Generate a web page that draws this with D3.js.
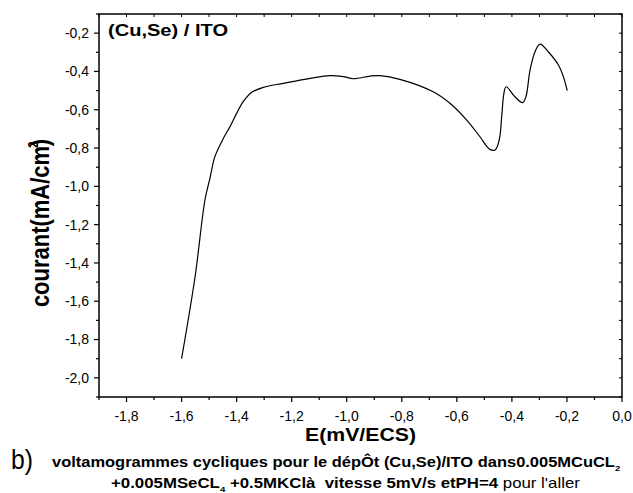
<html>
<script src="https://d3js.org/d3.v7.js"></script>
<body style="margin:0;background:#fff;">
<style>
    text { font-family: Arial, "Liberation Sans", sans-serif; }
    .tick-label { font-size: 14px; fill: #000; }
</style>
<div id="chart"></div>
<script>
    // potential E (V/ECS) and current (mA/cm2)
    let potential = [-1.600, -1.551, -1.515, -1.497, -1.479, -1.448, -1.424, -1.400, -1.376, -1.345,
                     -1.303, -1.230, -1.133, -1.061, -1.012, -0.976, -0.915, -0.879, -0.807, -0.686,
                     -0.625, -0.564, -0.516, -0.480, -0.461, -0.446, -0.437, -0.429, -0.421, -0.389,
                     -0.361, -0.349, -0.334, -0.316, -0.298, -0.268, -0.231, -0.213, -0.199];
    let current = [-1.900, -1.472, -1.070, -0.958, -0.845, -0.749, -0.688, -0.619, -0.558, -0.509,
                   -0.483, -0.462, -0.436, -0.422, -0.427, -0.438, -0.424, -0.422, -0.441, -0.506,
                   -0.566, -0.654, -0.741, -0.807, -0.810, -0.758, -0.636, -0.514, -0.480, -0.532,
                   -0.563, -0.532, -0.392, -0.297, -0.257, -0.297, -0.366, -0.427, -0.500];
    let xTicks = [-1.8, -1.6, -1.4, -1.2, -1.0, -0.8, -0.6, -0.4, -0.2, 0.0];
    let yTicks = [-0.2, -0.4, -0.6, -0.8, -1.0, -1.2, -1.4, -1.6, -1.8, -2.0];
    let xMinor = [-1.9, -1.7, -1.5, -1.3, -1.1, -0.9, -0.7, -0.5, -0.3, -0.1];
    let yMinor = [-0.1, -0.3, -0.5, -0.7, -0.9, -1.1, -1.3, -1.5, -1.7, -1.9, -2.1];

    let width = 633, height = 493;
    let pLeft = 99, pRight = 622, pTop = 14, pBottom = 397;

    let svg = d3.select('#chart').append('svg').attr('width', width).attr('height', height);

    let x = d3.scaleLinear().domain([-1.9, 0.0]).range([pLeft, pRight]);
    let y = d3.scaleLinear().domain([-2.1, -0.1]).range([pBottom, pTop]);
    let fmt = d => d3.format('.1f')(d).replace('.', ',').replace('−', '-');

    // frame
    svg.append('rect')
        .attr('x', pLeft).attr('y', pTop)
        .attr('width', pRight - pLeft).attr('height', pBottom - pTop)
        .attr('fill', 'none').attr('stroke', '#000').attr('stroke-width', 1.5);

    // bottom axis, ticks outside
    let bottomAxis = svg.append('g').attr('transform', `translate(0,${pBottom})`);
    bottomAxis.selectAll('.maj').data(xTicks).join('line')
        .attr('class', 'maj')
        .attr('x1', d => x(d)).attr('x2', d => x(d)).attr('y1', 0).attr('y2', 5)
        .attr('stroke', '#000').attr('stroke-width', 1.2);
    bottomAxis.selectAll('.min').data(xMinor).join('line')
        .attr('class', 'min')
        .attr('x1', d => x(d)).attr('x2', d => x(d)).attr('y1', 0).attr('y2', 3)
        .attr('stroke', '#000').attr('stroke-width', 1.2);
    bottomAxis.selectAll('text').data(xTicks).join('text')
        .attr('class', 'tick-label')
        .attr('x', d => x(d)).attr('y', 24)
        .attr('text-anchor', 'middle')
        .text(fmt);

    // top axis, ticks inside
    svg.append('g').selectAll('line').data(xTicks.concat(xMinor)).join('line')
        .attr('x1', d => x(d)).attr('x2', d => x(d)).attr('y1', pTop).attr('y2', pTop + 3)
        .attr('stroke', '#000').attr('stroke-width', 1);

    // left axis, ticks outside
    let leftAxis = svg.append('g').attr('transform', `translate(${pLeft},0)`);
    leftAxis.selectAll('.maj').data(yTicks).join('line')
        .attr('class', 'maj')
        .attr('y1', d => y(d)).attr('y2', d => y(d)).attr('x1', 0).attr('x2', -5)
        .attr('stroke', '#000').attr('stroke-width', 1.2);
    leftAxis.selectAll('.min').data(yMinor).join('line')
        .attr('class', 'min')
        .attr('y1', d => y(d)).attr('y2', d => y(d)).attr('x1', 0).attr('x2', -3)
        .attr('stroke', '#000').attr('stroke-width', 1.2);
    leftAxis.selectAll('text').data(yTicks).join('text')
        .attr('class', 'tick-label')
        .attr('x', -10).attr('y', d => y(d))
        .attr('dy', '0.35em')
        .attr('text-anchor', 'end')
        .text(fmt);

    // right axis, ticks inside
    svg.append('g').selectAll('line').data(yTicks.concat(yMinor)).join('line')
        .attr('y1', d => y(d)).attr('y2', d => y(d)).attr('x1', pRight).attr('x2', pRight - 3)
        .attr('stroke', '#000').attr('stroke-width', 1);

    // the curve
    let line = d3.line()
        .x(d => x(d[0]))
        .y(d => y(d[1]))
        .curve(d3.curveCatmullRom.alpha(0.5));
    svg.append('path')
        .datum(d3.zip(potential, current))
        .attr('fill', 'none')
        .attr('stroke', '#000')
        .attr('stroke-width', 1.2)
        .attr('d', line);

    // labels
    svg.append('text')
        .attr('x', 108).attr('y', 36)
        .attr('textLength', 120).attr('lengthAdjust', 'spacingAndGlyphs')
        .style('font-size', '16px').style('font-weight', 'bold')
        .text('(Cu,Se) / ITO');

    svg.append('text')
        .attr('x', 305).attr('y', 441)
        .attr('textLength', 111).attr('lengthAdjust', 'spacingAndGlyphs')
        .style('font-size', '19px').style('font-weight', 'bold')
        .text('E(mV/ECS)');

    // y label, stretched a bit sideways like the scan
    let ylab = svg.append('text')
        .attr('transform', `translate(49,223) scale(1.2,1) rotate(-90)`)
        .attr('text-anchor', 'middle')
        .style('font-size', '22px').style('font-weight', 'bold');
    ylab.append('tspan').text('courant(mA/cm');
    ylab.append('tspan').attr('dy', -9).attr('dx', -2).style('font-size', '12px').text('2');
    ylab.append('tspan').attr('dy', 9).attr('dx', -5).text(')');

    svg.append('text')
        .attr('x', 11).attr('y', 469)
        .attr('textLength', 22).attr('lengthAdjust', 'spacingAndGlyphs')
        .style('font-size', '27px')
        .text('b)');

    // caption lines: written at natural width, then stretched sideways to the scan's width
    function captionLine(px, py, targetWidth, parts) {
        let g = svg.append('g');
        let t = g.append('text').style('font-size', '14px').style('white-space', 'pre');
        parts.forEach(p => {
            let s = t.append('tspan').text(p.text)
                .style('font-weight', p.bold ? 'bold' : 'normal');
            if (p.sub) s.attr('dy', 4).style('font-size', '8px');
            if (p.back) s.attr('dy', -4);
        });
        let natural = t.node().getComputedTextLength();
        g.attr('transform', `translate(${px},${py}) scale(${targetWidth / natural},1)`);
    }
    captionLine(52, 467, 569, [
        {text: 'voltamogrammes cycliques pour le dépÔt (Cu,Se)/ITO dans0.005MCuCL', bold: true},
        {text: '2', bold: true, sub: true}
    ]);
    captionLine(111, 488, 469, [
        {text: '+0.005MSeCL', bold: true},
        {text: '4', bold: true, sub: true},
        {text: ' +0.5MKClà  vitesse 5mV/s etPH=4', bold: true, back: true},
        {text: ' pour l\'aller', bold: false}
    ]);
</script>
</body>
</html>
